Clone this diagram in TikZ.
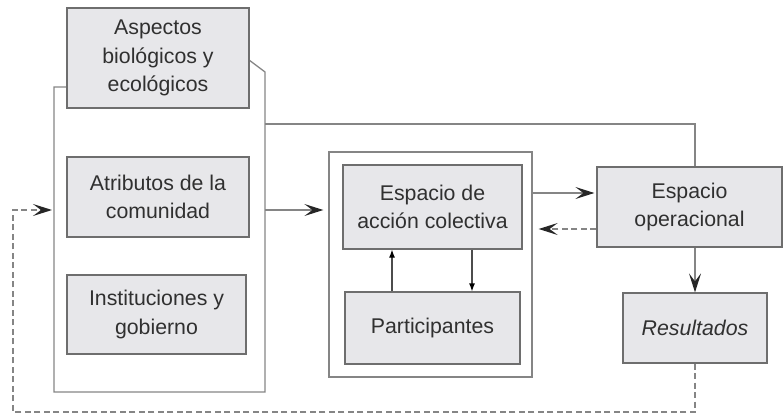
\documentclass[tikz,border=0pt]{standalone}
\usepackage{fontspec}
\setmainfont{Liberation Sans}
\usetikzlibrary{arrows.meta}
\definecolor{boxfill}{HTML}{E7E7EA}
\definecolor{boxline}{HTML}{6E6E6E}
\definecolor{wire}{HTML}{858585}
\definecolor{txt}{HTML}{303030}
\tikzset{
  box/.style={draw=boxline, fill=boxfill, line width=1.2pt, align=center, text=txt,
    font=\fontsize{21.3}{28.5}\selectfont, inner sep=0pt},
  frame/.style={draw=wire, line width=1.3pt},
  wireline/.style={draw=wire, line width=1.3pt},
  bigtip/.tip={Stealth[length=19pt, width=12pt, inset=8pt, color=black!85]},
  bigarr/.style={wireline, -bigtip},
  smallarr/.style={draw=black!70, line width=1.2pt, -{Latex[length=8pt, width=6pt, color=black]}},
  dsh/.style={wireline, dash pattern=on 6pt off 3.5pt},
}
\begin{document}
\begin{tikzpicture}[x=1pt, y=-1pt]
\useasboundingbox (0,0) rectangle (784,417);
% left group frame
\node[minimum width=211pt, minimum height=305pt, inner sep=0pt] (grp) at (159.5,239.5) {};
\draw[frame] (67,87) -- (54,87) -- (54,392) -- (265,392) -- (265,72) -- (249,60);
\node[box, minimum width=182pt, minimum height=100pt] (asp) at (158,58) {Aspectos\\biológicos y\\ecológicos};
\node[box, minimum width=182pt, minimum height=80pt] (atr) at (158,197) {Atributos de la\\comunidad};
\node[box, minimum width=179pt, minimum height=79pt] (ins) at (156.5,314.5) {Instituciones y\\gobierno};
% collective frame
\node[frame, minimum width=203pt, minimum height=225pt, inner sep=0pt] (col) at (430.5,264.5) {};
\node[box, minimum width=179pt, minimum height=84pt] (esp) at (432.5,207) {Espacio de\\acción colectiva};
\node[box, minimum width=175pt, minimum height=72pt] (par) at (432.5,328) {Participantes};
% right
\node[box, minimum width=185pt, minimum height=80pt] (ope) at (689.5,207) {Espacio\\operacional};
\node[box, minimum width=144pt, minimum height=70pt] (res) at (695,328) {\itshape Resultados};
% coordinates
\coordinate (topc) at (695,124);
\coordinate (fb) at (13,412);
\coordinate (grpin) at (54,210);
% connectors
\draw[wireline] (grp.east |- topc) -- (topc) -- (topc |- ope.north);
\draw[bigarr] (grp.east |- grpin) -- ([xshift=-5pt]col.west |- grpin);
\draw[bigarr] ([yshift=14pt]ope.west -| col.east) -- ([yshift=14pt,xshift=-2pt]ope.west);
\draw[dsh, -bigtip] ([yshift=-22pt]ope.west) -- ([yshift=-22pt,xshift=6pt]ope.west -| col.east);
\draw[bigarr] (ope.south -| res.north) -- (res.north);
\draw[smallarr] (par.north -| 392,0) -- (esp.south -| 392,0);
\draw[smallarr] (esp.south -| 472,0) -- (par.north -| 472,0);
\draw[dsh, -bigtip] (res.south) -- (res.south |- fb) -- (fb) -- (fb |- grpin) -- ([xshift=-2pt]grpin);
\end{tikzpicture}
\end{document}
